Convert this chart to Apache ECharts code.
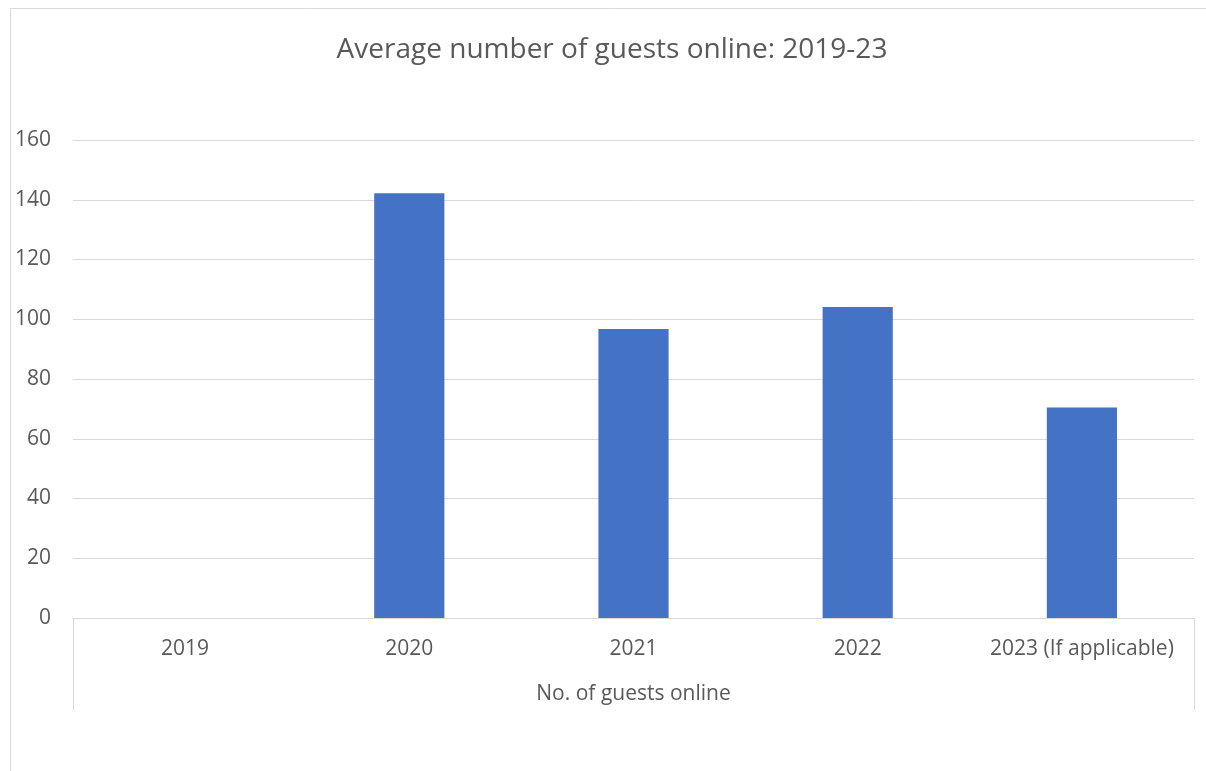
<!DOCTYPE html>
<html>
<head>
<meta charset="utf-8">
<script src="https://cdn.jsdelivr.net/npm/echarts@6/dist/echarts.min.js"></script>
<style>
html,body{margin:0;padding:0;background:#fff;}
#chart{width:1206px;height:771px;}
</style>
</head>
<body>
<div id="chart"></div>
<script>
const titleText = "Average number of guests online: 2019-23";
const categories = ["2019", "2020", "2021", "2022", "2023 (If applicable)"];
const guestsOnline = [0, 142.2, 96.7, 104.1, 70.5];
const seriesName = "No. of guests online";
const yTicks = { min: 0, max: 160, interval: 20 };

const FONT = "'Open Sans', 'Noto Sans', sans-serif";
const TEXT = "#595959";
const LINE = "#d9d9d9";
const W = 1206, H = 771;
const gridLeft = 73, gridRight = 12, gridTop = 140, gridBottom = 153;

const chart = echarts.init(document.getElementById('chart'), null, { renderer: 'canvas' });
chart.setOption({
  backgroundColor: '#fff',
  animation: false,
  title: {
    text: titleText,
    left: 607, top: 31, textAlign: 'center',
    textStyle: { fontFamily: FONT, fontSize: 28, fontWeight: 'normal', color: TEXT }
  },
  grid: { left: gridLeft, right: gridRight, top: gridTop, bottom: gridBottom, containLabel: false },
  xAxis: {
    type: 'category',
    data: categories,
    name: seriesName,
    nameLocation: 'middle',
    nameGap: 66,
    nameTextStyle: { fontFamily: FONT, fontSize: 21, color: TEXT },
    axisLine: { show: true, lineStyle: { color: LINE, width: 1 } },
    axisTick: { show: false },
    axisLabel: { fontFamily: FONT, fontSize: 21, color: TEXT, margin: 21, interval: 0 },
    splitLine: { show: false }
  },
  yAxis: {
    type: 'value',
    min: yTicks.min, max: yTicks.max, interval: yTicks.interval,
    axisLine: { show: false },
    axisTick: { show: false },
    axisLabel: { fontFamily: FONT, fontSize: 21, color: TEXT, margin: 22 },
    splitLine: { show: true, lineStyle: { color: LINE, width: 1 } }
  },
  series: [{
    name: seriesName,
    type: 'bar',
    data: guestsOnline,
    barWidth: '31.3%',
    itemStyle: { color: '#4472C4' }
  }],
  graphic: [
    { type: 'rect', shape: { x: 10.5, y: 8.5, width: W, height: H }, style: { fill: 'none', stroke: LINE, lineWidth: 1 }, silent: true },
    { type: 'line', shape: { x1: gridLeft + 0.5, y1: H - gridBottom, x2: gridLeft + 0.5, y2: 710 }, style: { stroke: LINE, lineWidth: 1 }, silent: true },
    { type: 'line', shape: { x1: W - gridRight + 0.5, y1: H - gridBottom, x2: W - gridRight + 0.5, y2: 710 }, style: { stroke: LINE, lineWidth: 1 }, silent: true }
  ]
});
</script>
</body>
</html>
